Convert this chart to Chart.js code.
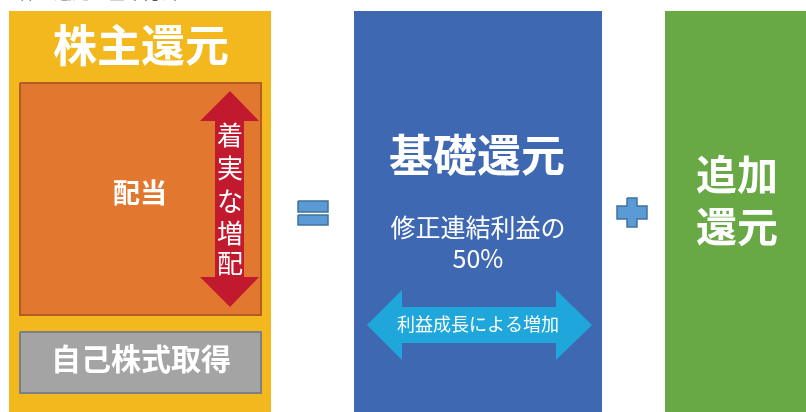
<!DOCTYPE html>
<html>
<head>
<meta charset="utf-8">
<script src="https://cdn.jsdelivr.net/npm/chart.js@4.4.0/dist/chart.umd.min.js"></script>
<style>
  html, body { margin: 0; padding: 0; background: #fff; }
  #wrap { width: 806px; height: 412px; }
</style>
</head>
<body>
<div id="wrap"><canvas id="diagrama" width="806" height="412"></canvas></div>
<script>
// Formas (coordenadas en unidades del eje, 0..806 x 0..412)
const cajaAmarilla = [[9, 11], [271, 11], [271, 412], [9, 412]];
const cajaDividendo = [[20, 83], [261, 83], [261, 315], [20, 315]];
const cajaRecompra = [[20, 332], [261, 332], [261, 393], [20, 393]];
const cajaAzul = [[354, 11], [602, 11], [602, 412], [354, 412]];
const cajaVerde = [[665, 11], [806, 11], [806, 412], [665, 412]];
const flechaRoja = [[230, 91], [259, 121], [244, 121], [244, 277], [259, 277], [230, 307],
  [200, 277], [215, 277], [215, 121], [200, 121]];
const flechaCian = [[367, 325], [402, 290], [402, 307], [556, 307], [556, 290], [592, 325],
  [556, 360], [556, 343], [402, 343], [402, 360]];
const igualArriba = [[298, 201], [328, 201], [328, 212], [298, 212]];
const igualAbajo = [[298, 215], [328, 215], [328, 225], [298, 225]];
const signoMas = [[627, 198], [637, 198], [637, 206], [647, 206], [647, 219], [637, 219],
  [637, 227], [627, 227], [627, 219], [617, 219], [617, 206], [627, 206]];

// Textos
const titulos = ['株主還元', '基礎還元'];
const etiquetaDividendo = '配当';
const etiquetaRecompra = '自己株式取得';
const textoVertical = ['着', '実', 'な', '増', '配'];
const textoBase = ['修正連結利益の', '50%'];
const textoFlecha = '利益成長による増加';
const textoAdicional = ['追加', '還元'];
const textoSuperior = '・株主還元の基本方針';

function poligono(puntos) {
  const d = puntos.map(p => ({ x: p[0], y: p[1] }));
  d.push({ x: puntos[0][0], y: puntos[0][1] });
  return d;
}

function forma(puntos, relleno, borde, grosor, orden) {
  return {
    data: poligono(puntos),
    fill: 'shape',
    backgroundColor: relleno,
    borderColor: borde || relleno,
    borderWidth: grosor || 0,
    pointRadius: 0,
    tension: 0,
    order: orden
  };
}

const FUENTE = '"Noto Sans CJK JP", "Noto Sans", sans-serif';

const textos = {
  id: 'textos',
  afterDatasetsDraw(chart) {
    const { ctx, scales: { x, y } } = chart;
    const escribir = (t, vx, vy, size, weight, color) => {
      ctx.font = `${weight} ${size}px ${FUENTE}`;
      ctx.fillStyle = color || '#fff';
      ctx.fillText(t, x.getPixelForValue(vx), y.getPixelForValue(vy));
    };
    ctx.save();
    ctx.textAlign = 'center';
    ctx.textBaseline = 'middle';
    escribir(titulos[0], 141, 45, 44, 'bold');
    escribir(titulos[1], 477, 155, 44, 'bold');
    escribir(etiquetaDividendo, 140, 193, 27, 'bold');
    escribir(etiquetaRecompra, 141, 359, 30, 'bold');
    const posV = [135, 168, 201, 233, 263];
    textoVertical.forEach((c, i) => escribir(c, 230, posV[i], 26, 'normal'));
    escribir(textoBase[0], 478, 227, 25, 'normal');
    escribir(textoBase[1], 478, 258, 25, 'normal');
    escribir(textoFlecha, 478, 324, 18, 'normal');
    escribir(textoAdicional[0], 737, 174, 41, 'bold');
    escribir(textoAdicional[1], 737, 226, 41, 'bold');
    ctx.textAlign = 'left';
    ctx.textBaseline = 'bottom';
    escribir(textoSuperior, 0, 1, 18, 'normal', '#555');
    ctx.restore();
  }
};

new Chart(document.getElementById('diagrama'), {
  type: 'line',
  data: {
    datasets: [
      forma(cajaAmarilla, '#f3b81d', null, 0, 5),
      forma(cajaAzul, '#3f68b2', null, 0, 5),
      forma(cajaVerde, '#68a845', null, 0, 5),
      forma(cajaDividendo, '#e2772f', '#b35c22', 2, 4),
      forma(cajaRecompra, '#a4a4a4', '#7b8088', 2, 4),
      forma(flechaRoja, '#c1192d', null, 0, 3),
      forma(flechaCian, '#1fa7dc', null, 0, 3),
      forma(igualArriba, '#5b9bd5', '#41719c', 1.5, 3),
      forma(igualAbajo, '#5b9bd5', '#41719c', 1.5, 3),
      forma(signoMas, '#5b9bd5', '#41719c', 1.5, 3)
    ]
  },
  options: {
    responsive: false,
    animation: false,
    layout: { padding: 0 },
    plugins: { legend: { display: false }, tooltip: { enabled: false } },
    scales: {
      x: { type: 'linear', min: 0, max: 806, display: false },
      y: { type: 'linear', min: 0, max: 412, reverse: true, display: false }
    }
  },
  plugins: [textos]
});
</script>
</body>
</html>
